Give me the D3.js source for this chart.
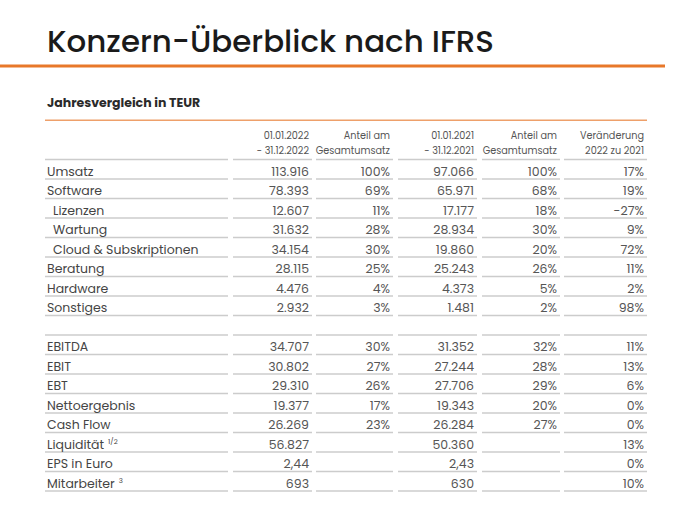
<!DOCTYPE html>
<html><head><meta charset="utf-8">
<script src="https://cdn.jsdelivr.net/npm/d3@7/dist/d3.min.js"></script>
<style>html,body{margin:0;padding:0;background:#fff;}svg{display:block;}</style>
</head><body>
<script>
const title = "Konzern-Überblick nach IFRS";
const subtitle = "Jahresvergleich in TEUR";
const headerLine1 = ["", "01.01.2022", "Anteil am", "01.01.2021", "Anteil am", "Veränderung"];
const headerLine2 = ["", "- 31.12.2022", "Gesamtumsatz", "- 31.12.2021", "Gesamtumsatz", "2022 zu 2021"];
const labels = ["Umsatz","Software","Lizenzen","Wartung","Cloud & Subskriptionen","Beratung","Hardware","Sonstiges","","EBITDA","EBIT","EBT","Nettoergebnis","Cash Flow","Liquidität","EPS in Euro","Mitarbeiter"];
const superscripts = ["","","","","","","","","","","","","","","1/2","","3"];
const indented = [false,false,true,true,true,false,false,false,false,false,false,false,false,false,false,false,false];
const value2022 = ["113.916","78.393","12.607","31.632","34.154","28.115","4.476","2.932","","34.707","30.802","29.310","19.377","26.269","56.827","2,44","693"];
const share2022 = ["100%","69%","11%","28%","30%","25%","4%","3%","","30%","27%","26%","17%","23%","","",""];
const value2021 = ["97.066","65.971","17.177","28.934","19.860","25.243","4.373","1.481","","31.352","27.244","27.706","19.343","26.284","50.360","2,43","630"];
const share2021 = ["100%","68%","18%","30%","20%","26%","5%","2%","","32%","28%","29%","20%","27%","","",""];
const change = ["17%","19%","-27%","9%","72%","11%","2%","98%","","11%","13%","6%","0%","0%","13%","0%","10%"];

const W = 683, H = 511;
const font = "Poppins, 'Open Sans', sans-serif";
const svg = d3.select("body").append("svg").attr("width", W).attr("height", H);

// title
svg.append("text").attr("x", 47).attr("y", 52).text(title)
  .attr("font-family", font).attr("font-size", 31).attr("font-weight", 500)
  .attr("fill", "#1a1a1a").attr("textLength", 447).attr("lengthAdjust", "spacingAndGlyphs");
svg.append("rect").attr("x", 0).attr("y", 64.5).attr("width", 665).attr("height", 3).attr("fill", "#e8782a");

svg.append("text").attr("x", 47).attr("y", 107).text(subtitle)
  .attr("font-family", font).attr("font-size", 12.5).attr("font-weight", 700).attr("fill", "#2a2a2a");
svg.append("rect").attr("x", 45).attr("y", 119.5).attr("width", 602).attr("height", 1.5).attr("fill", "#eea06a");

// column geometry
const colStart = [45, 233, 316, 398, 482, 564];
const colEnd = [228, 312, 393, 477, 560, 647];
const columns = [null, value2022, share2022, value2021, share2021, change];

const n = labels.length;
const y = d3.scaleLinear().domain([0, n]).range([159.5, 159.5 + 19.5 * n]);

// header
const hdr = svg.append("g").attr("font-family", font).attr("font-size", 9.7).attr("fill", "#555").attr("text-anchor", "end");
headerLine1.forEach((t, i) => { if (t) hdr.append("text").attr("x", colEnd[i] - 3).attr("y", 139).text(t); });
headerLine2.forEach((t, i) => { if (t) hdr.append("text").attr("x", colEnd[i] - 3).attr("y", 154).text(t); });

// grid lines
const lines = svg.append("g").attr("stroke", "#cccccc").attr("stroke-width", 1.5);
d3.range(0, n + 1).forEach(r => {
  colStart.forEach((x0, c) => {
    lines.append("line").attr("x1", x0).attr("x2", colEnd[c]).attr("y1", y(r)).attr("y2", y(r));
  });
});

// labels
const lab = svg.append("g").attr("font-family", font).attr("font-size", 12.5).attr("fill", "#444");
labels.forEach((t, i) => {
  if (!t) return;
  const tx = lab.append("text").attr("x", indented[i] ? 53 : 47).attr("y", y(i + 1) - 3.5).text(t);
  if (superscripts[i]) {
    tx.append("tspan").attr("dx", 4).attr("dy", -5).attr("font-size", 7).text(superscripts[i]);
  }
});

// values
const vals = svg.append("g").attr("font-family", font).attr("font-size", 12.5).attr("fill", "#555").attr("text-anchor", "end");
columns.forEach((arr, c) => {
  if (!arr) return;
  vals.selectAll(null).data(arr).join("text")
    .attr("x", colEnd[c] - 3).attr("y", (d, i) => y(i + 1) - 3.5).text(d => d);
});
</script>
</body></html>
